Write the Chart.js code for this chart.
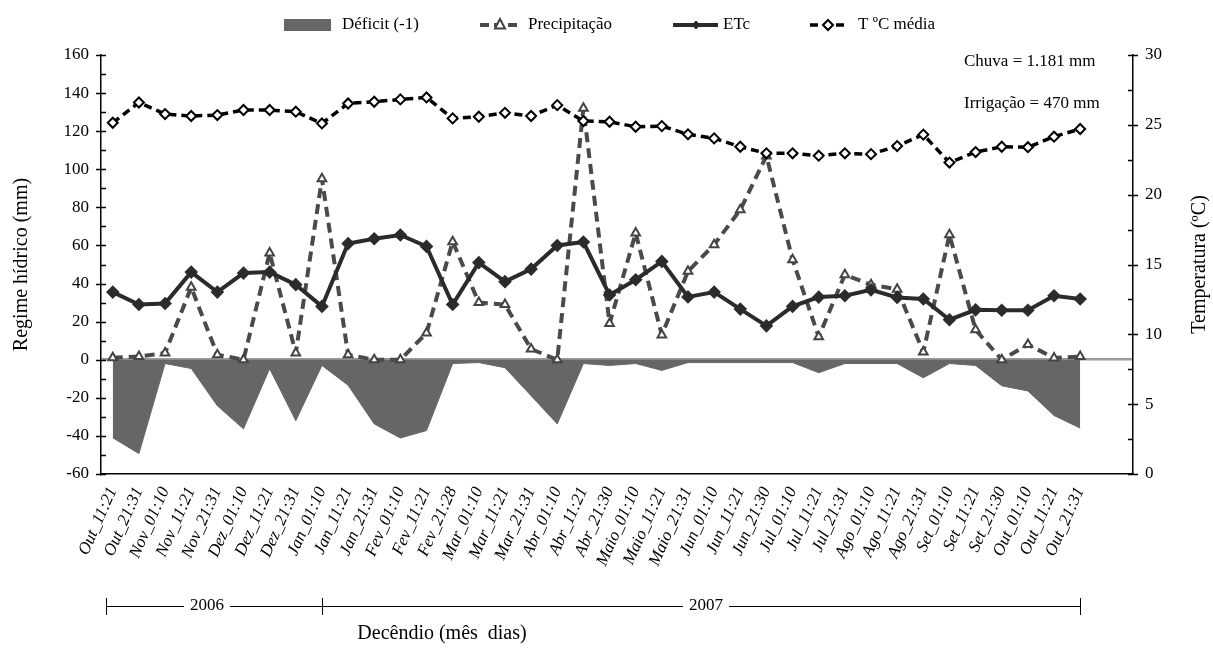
<!DOCTYPE html>
<html>
<head>
<meta charset="utf-8">
<script src="https://cdn.jsdelivr.net/npm/chart.js@4/dist/chart.umd.min.js"></script>
<style>
  html, body { margin: 0; padding: 0; background: #fff; }
  #wrap { width: 1213px; height: 649px; position: relative; }
</style>
</head>
<body>
<div id="wrap"><canvas id="chart"></canvas></div>
<script>
// Decêndios (Out/2006 - Out/2007)
const decendios = ['Out_11:21', 'Out_21:31', 'Nov_01:10', 'Nov_11:21', 'Nov_21:31', 'Dez_01:10', 'Dez_11:21', 'Dez_21:31',
    'Jan_01:10', 'Jan_11:21', 'Jan_21:31', 'Fev_01:10', 'Fev_11:21', 'Fev_21:28', 'Mar_01:10', 'Mar_11:21', 'Mar_21:31',
    'Abr_01:10', 'Abr_11:21', 'Abr_21:30', 'Maio_01:10', 'Maio_11:21', 'Maio_21:31', 'Jun_01:10', 'Jun_11:21', 'Jun_21:30',
    'Jul_01:10', 'Jul_11:21', 'Jul_21:31', 'Ago_01:10', 'Ago_11:21', 'Ago_21:31', 'Set_01:10', 'Set_11:21', 'Set_21:30',
    'Out_01:10', 'Out_11:21', 'Out_21:31'];

const deficit = [-41, -49.3, -2, -4.6, -24.2, -36.3, -4.7, -32, -3, -13.4, -33.7, -41.1, -37.2, -2, -1.5, -4.2, -18.9,
    -33.7, -2, -3, -2, -5.6, -1.5, -1.5, -1.5, -1.5, -1.5, -6.8, -2, -2, -2, -9.5, -2, -3, -13.7, -16.4, -29.3, -35.9];

const precipitacao = [1, 1.7, 3.5, 38, 2.6, 0, 56, 3.5, 95, 2.6, 0, 0, 14, 62, 30, 29, 5.6, 0, 132, 19, 66.5, 13, 46.4,
    60.4, 78.7, 107, 52.5, 12, 44.6, 39.4, 37, 4, 65.6, 15.7, 0, 8, 0.9, 1.7];

const etc = [35.5, 29, 29.5, 46, 35.5, 45.5, 46, 39.4, 28, 61, 63.5, 65.5, 59.5, 29, 51, 41, 47.6, 60, 61.8, 34, 42, 51.6,
    33, 35.5, 26.6, 17.8, 28, 32.9, 33.6, 36.7, 32.7, 31.9, 21, 26.2, 26, 26, 33.6, 31.9];

const tempMedia = [25.15, 26.6, 25.77, 25.63, 25.7, 26.06, 26.06, 25.94, 25.1, 26.53, 26.65, 26.82, 26.96, 25.46, 25.58,
    25.86, 25.63, 26.41, 25.27, 25.22, 24.86, 24.91, 24.32, 24.03, 23.43, 22.96, 22.96, 22.79, 22.96, 22.9, 23.48, 24.3,
    22.3, 23.05, 23.43, 23.4, 24.15, 24.7];

const yTicksMm = { min: -60, max: 160, step: 10, labelEvery: 20 };
const yTicksTemp = { min: 0, max: 30, step: 2.5, labelEvery: 5 };

const SERIF = '"Liberation Serif", "Times New Roman", serif';

function toXY(arr) {
    return arr.map((v, i) => ({ x: i, y: v }));
}

// small inward tick marks + outward major ticks on both value axes
const axisTicks = {
    id: 'axisTicks',
    afterDraw(chart) {
        const ctx = chart.ctx;
        const area = chart.chartArea;
        ctx.save();
        ctx.strokeStyle = '#000';
        ctx.lineWidth = 1.5;
        [['y', yTicksMm, area.left, 1], ['y1', yTicksTemp, area.right, -1]].forEach(([id, def, x0, dir]) => {
            const scale = chart.scales[id];
            for (let v = def.min; v <= def.max + 0.001; v += def.step) {
                const y = Math.round(scale.getPixelForValue(v)) + 0.5;
                const major = Math.abs(v % def.labelEvery) < 0.001;
                ctx.beginPath();
                ctx.moveTo(x0 - (major ? 5 * dir : 0), y);
                ctx.lineTo(x0 + 5 * dir, y);
                ctx.stroke();
            }
        });
        ctx.restore();
    }
};

function drawMarker(ctx, style, x, y, r, fill, stroke, lw) {
    ctx.beginPath();
    if (style === 'triangle') {
        ctx.moveTo(x, y - r * 1.2);
        ctx.lineTo(x + r, y + r * 0.7);
        ctx.lineTo(x - r, y + r * 0.7);
    } else {
        ctx.moveTo(x, y - r);
        ctx.lineTo(x + r, y);
        ctx.lineTo(x, y + r);
        ctx.lineTo(x - r, y);
    }
    ctx.closePath();
    ctx.fillStyle = fill;
    ctx.fill();
    ctx.lineWidth = lw;
    ctx.strokeStyle = stroke;
    ctx.stroke();
}

// legend, notes, year bar and titles
const extras = {
    id: 'extras',
    afterDraw(chart) {
        const ctx = chart.ctx;
        const xs = chart.scales.x;
        const area = chart.chartArea;
        ctx.save();
        ctx.fillStyle = '#000';
        ctx.textBaseline = 'middle';
        ctx.font = '17px ' + SERIF;

        // legend
        const ly = 25;
        ctx.fillStyle = '#666';
        ctx.fillRect(284, 19, 47, 12);
        ctx.fillStyle = '#000';
        ctx.fillText('Déficit (-1)', 342, ly);

        ctx.setLineDash([9, 5]);
        ctx.lineWidth = 4;
        ctx.strokeStyle = '#4a4a4a';
        ctx.beginPath(); ctx.moveTo(480, ly); ctx.lineTo(521, ly); ctx.stroke();
        ctx.setLineDash([]);
        drawMarker(ctx, 'triangle', 500, ly, 5, '#fff', '#444', 2);
        ctx.fillStyle = '#000';
        ctx.fillText('Precipitação', 528, ly);

        ctx.lineWidth = 4;
        ctx.strokeStyle = '#2b2b2b';
        ctx.beginPath(); ctx.moveTo(673, ly); ctx.lineTo(718, ly); ctx.stroke();
        drawMarker(ctx, 'diamond', 696, ly, 4, '#2b2b2b', '#2b2b2b', 1);
        ctx.fillStyle = '#000';
        ctx.fillText('ETc', 723, ly);

        ctx.setLineDash([8, 5]);
        ctx.lineWidth = 3.5;
        ctx.strokeStyle = '#000';
        ctx.beginPath(); ctx.moveTo(810, ly); ctx.lineTo(847, ly); ctx.stroke();
        ctx.setLineDash([]);
        drawMarker(ctx, 'diamond', 828, ly, 5, '#fff', '#000', 2);
        ctx.fillStyle = '#000';
        ctx.fillText('T ºC média', 858, ly);

        // totals
        ctx.fillText('Chuva = 1.181 mm', 964, 62);
        ctx.fillText('Irrigação = 470 mm', 964, 104);

        // year bar
        const yb = 606;
        const xa = xs.getPixelForValue(-0.25);
        const xm = xs.getPixelForValue(8);
        const xe = xs.getPixelForValue(37);
        ctx.strokeStyle = '#000';
        ctx.lineWidth = 1;
        ctx.textAlign = 'center';
        const w06 = ctx.measureText('2006').width;
        const w07 = ctx.measureText('2007').width;
        const c06 = 207, c07 = 706;
        ctx.beginPath();
        ctx.moveTo(xa, yb + 0.5); ctx.lineTo(c06 - w06 / 2 - 6, yb + 0.5);
        ctx.moveTo(c06 + w06 / 2 + 6, yb + 0.5); ctx.lineTo(c07 - w07 / 2 - 6, yb + 0.5);
        ctx.moveTo(c07 + w07 / 2 + 6, yb + 0.5); ctx.lineTo(xe, yb + 0.5);
        [xa, xm, xe].forEach(x => { ctx.moveTo(Math.round(x) + 0.5, yb - 8); ctx.lineTo(Math.round(x) + 0.5, yb + 9); });
        ctx.stroke();
        ctx.fillText('2006', c06, yb);
        ctx.fillText('2007', c07, yb);

        // axis titles
        ctx.font = '20px ' + SERIF;
        ctx.fillText('Decêndio (mês  dias)', 442, 634);
        ctx.translate(1200, (area.top + area.bottom) / 2);
        ctx.rotate(-Math.PI / 2);
        ctx.fillText('Temperatura (ºC)', 0, 0);
        ctx.restore();
    }
};

new Chart(document.getElementById('chart'), {
    type: 'line',
    data: {
        datasets: [
            {
                label: 'Déficit (-1)',
                data: toXY(deficit),
                yAxisID: 'y',
                fill: 'origin',
                backgroundColor: '#666666',
                borderColor: '#666666',
                borderWidth: 1,
                pointRadius: 0,
                order: 4
            },
            {
                label: 'Precipitação',
                data: toXY(precipitacao),
                yAxisID: 'y',
                borderColor: '#4a4a4a',
                borderWidth: 4,
                borderDash: [10, 6],
                borderJoinStyle: 'bevel',
                pointStyle: 'triangle',
                pointRadius: 5,
                pointBackgroundColor: '#fff',
                pointBorderColor: '#444',
                pointBorderWidth: 2,
                order: 3
            },
            {
                label: 'ETc',
                data: toXY(etc),
                yAxisID: 'y',
                borderColor: '#2b2b2b',
                borderWidth: 4,
                pointStyle: 'rectRot',
                pointRadius: 4,
                pointBackgroundColor: '#2b2b2b',
                pointBorderColor: '#2b2b2b',
                order: 2
            },
            {
                label: 'T ºC média',
                data: toXY(tempMedia),
                yAxisID: 'y1',
                borderColor: '#000',
                borderWidth: 3.5,
                borderDash: [8, 5],
                pointStyle: 'rectRot',
                pointRadius: 5,
                pointBackgroundColor: '#fff',
                pointBorderColor: '#000',
                pointBorderWidth: 2,
                order: 1
            }
        ]
    },
    options: {
        responsive: true,
        maintainAspectRatio: false,
        animation: false,
        layout: { padding: { top: 55, left: 0, right: 0, bottom: 0 } },
        plugins: { legend: { display: false }, tooltip: { enabled: false } },
        scales: {
            x: {
                type: 'linear',
                min: -0.45,
                max: 39.02,
                afterBuildTicks: scale => { scale.ticks = decendios.map((l, i) => ({ value: i })); },
                afterFit: scale => { scale.height = 175; },
                ticks: {
                    autoSkip: false,
                    minRotation: 66,
                    maxRotation: 66,
                    padding: 2,
                    color: '#000',
                    font: { family: SERIF, size: 17, style: 'italic' },
                    callback: v => decendios[v] ?? ''
                },
                grid: { display: false },
                border: { display: true, color: '#000', width: 1.5 }
            },
            y: {
                position: 'left',
                min: yTicksMm.min,
                max: yTicksMm.max,
                afterFit: scale => { scale.width = 101; },
                ticks: {
                    stepSize: yTicksMm.step,
                    padding: 12,
                    color: '#000',
                    font: { family: SERIF, size: 17 },
                    callback: v => (v % yTicksMm.labelEvery === 0 ? v : '')
                },
                grid: {
                    drawTicks: false,
                    lineWidth: 2.5,
                    color: c => (c.tick && c.tick.value === 0 ? '#9a9a9a' : 'rgba(0,0,0,0)')
                },
                border: { display: true, color: '#000', width: 1.5 },
                title: {
                    display: true,
                    text: 'Regime hídrico (mm)',
                    color: '#000',
                    font: { family: SERIF, size: 20 },
                    padding: { top: 10, bottom: 0 }
                }
            },
            y1: {
                position: 'right',
                min: yTicksTemp.min,
                max: yTicksTemp.max,
                afterFit: scale => { scale.width = 80; },
                ticks: {
                    stepSize: yTicksTemp.step,
                    padding: 12,
                    color: '#000',
                    font: { family: SERIF, size: 17 },
                    callback: v => (v % yTicksTemp.labelEvery === 0 ? v : '')
                },
                grid: { drawOnChartArea: false, drawTicks: false },
                border: { display: true, color: '#000', width: 1.5 }
            }
        }
    },
    plugins: [axisTicks, extras]
});
</script>
</body>
</html>
